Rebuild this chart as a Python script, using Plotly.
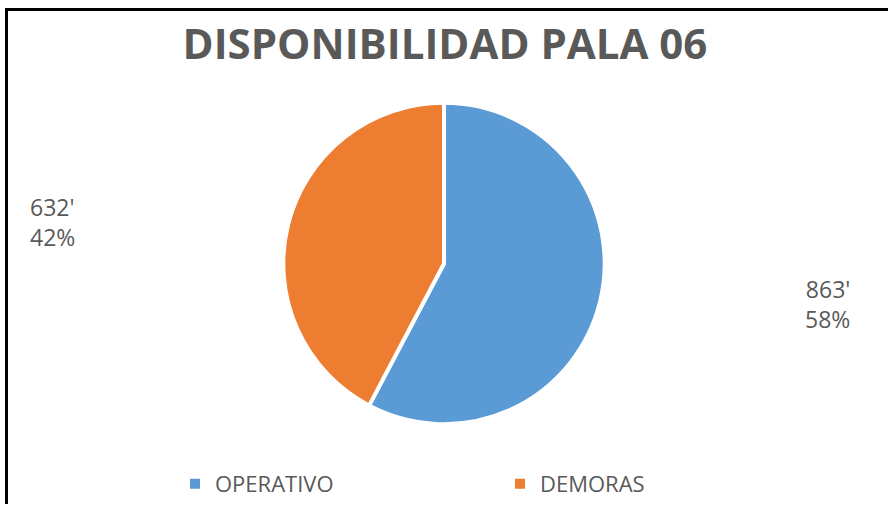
import plotly.graph_objects as go

categories = ["OPERATIVO", "DEMORAS"]
minutes = [863, 632]
colors = ["#5B9BD5", "#ED7D31"]
title_text = "DISPONIBILIDAD PALA 06"

W, H = 888, 505
total = sum(minutes)
pcts = [round(v / total * 100) for v in minutes]
label_texts = [f"{v}'<br>{p}%" for v, p in zip(minutes, pcts)]

fig = go.Figure()
fig.add_trace(go.Pie(
    labels=categories,
    values=minutes,
    sort=False,
    direction="clockwise",
    rotation=0,
    marker=dict(colors=colors, line=dict(color="white", width=4)),
    textinfo="none",
    hoverinfo="label+value+percent",
    domain=dict(x=[0.15, 0.85], y=[(H - 425) / H, (H - 103) / H]),
    showlegend=True,
))

# data labels (text built from the data arrays)
fig.add_annotation(text=label_texts[0], xref="paper", yref="paper",
                   x=852 / W, y=1 - 305 / H, xanchor="right", yanchor="middle",
                   align="right", showarrow=False,
                   font=dict(family="Open Sans", size=23, color="#595959"))
fig.add_annotation(text=label_texts[1], xref="paper", yref="paper",
                   x=28 / W, y=1 - 222 / H, xanchor="left", yanchor="middle",
                   align="left", showarrow=False,
                   font=dict(family="Open Sans", size=23, color="#595959"))

# frame lines (top and left)
fig.add_shape(type="line", xref="paper", yref="paper",
              x0=5 / W, x1=1, y0=1 - 9.5 / H, y1=1 - 9.5 / H,
              line=dict(color="black", width=3))
fig.add_shape(type="line", xref="paper", yref="paper",
              x0=6.5 / W, x1=6.5 / W, y0=0, y1=1 - 8 / H,
              line=dict(color="black", width=3))

fig.update_layout(
    width=W, height=H,
    margin=dict(l=0, r=0, t=0, b=0),
    paper_bgcolor="white",
    plot_bgcolor="white",
    title=dict(text=title_text, x=445 / W, xanchor="center",
               y=1 - 44 / H, yanchor="middle",
               font=dict(family="Open Sans", size=42, color="#595959", weight="bold")),
    legend=dict(orientation="h", x=500 / W, xanchor="center",
                y=1 - 485 / H, yanchor="middle",
                font=dict(family="Open Sans", size=22, color="#595959"),
                entrywidth=280, itemsizing="constant"),
)

fig.write_html("out.html")
